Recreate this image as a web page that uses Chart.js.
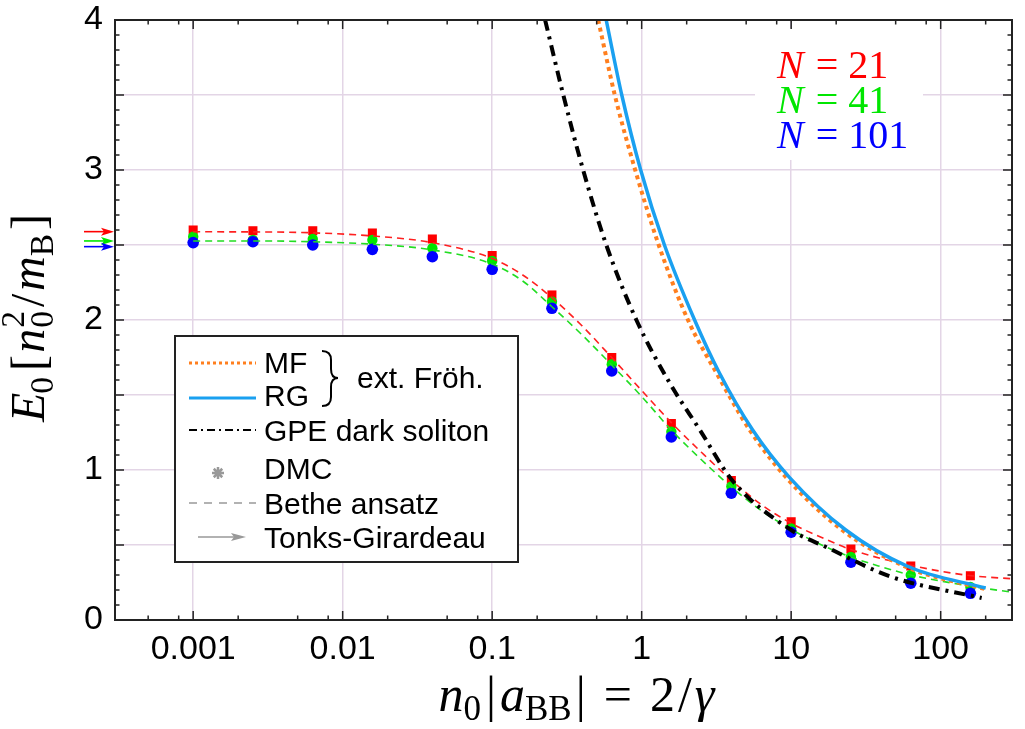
<!DOCTYPE html>
<html>
<head>
<meta charset="utf-8">
<script src="https://cdn.jsdelivr.net/npm/chart.js@4.4.1/dist/chart.umd.min.js"></script>
<style>
  html, body { margin: 0; padding: 0; background: #fff; }
  #wrap { width: 1025px; height: 729px; position: relative; }
</style>
</head>
<body>
<div id="wrap"><canvas id="energyChart"></canvas></div>
<script>
// DMC ground state energies
const dmcX = [0.001, 0.00251, 0.00631, 0.0158, 0.0398, 0.1, 0.251, 0.631, 1.58, 3.98, 10, 25.1, 63.1, 158];
const dmcN21 = [2.60, 2.595, 2.595, 2.58, 2.54, 2.43, 2.167, 1.75, 1.31, 0.93, 0.655, 0.473, 0.36, 0.295];
const dmcN41 = [2.555, 2.533, 2.54, 2.533, 2.478, 2.393, 2.122, 1.705, 1.255, 0.89, 0.61, 0.42, 0.30, 0.22];
const dmcN101 = [2.516, 2.522, 2.5, 2.471, 2.422, 2.338, 2.078, 1.66, 1.22, 0.845, 0.585, 0.385, 0.245, 0.178];

// Bethe ansatz curves
const betheX = [0.001, 0.003, 0.006, 0.016, 0.04, 0.1, 0.16, 0.25, 0.4, 0.63, 1, 1.6, 2.5, 4, 6.3, 10, 16, 25, 40, 63, 100, 160, 300];
const betheN21 = [2.588, 2.587, 2.582, 2.56, 2.515, 2.41, 2.30, 2.15, 1.96, 1.75, 1.53, 1.31, 1.12, 0.93, 0.77, 0.645, 0.55, 0.47, 0.41, 0.365, 0.325, 0.295, 0.275];
const betheN41 = [2.527, 2.527, 2.522, 2.505, 2.467, 2.373, 2.26, 2.09, 1.9, 1.70, 1.49, 1.26, 1.07, 0.885, 0.73, 0.605, 0.50, 0.42, 0.355, 0.30, 0.26, 0.225, 0.185];

// GPE dark soliton
const gpeX = [0.226, 0.299, 0.406, 0.58, 0.922, 1.54, 2.44, 4.04, 10, 17.1, 47, 188];
const gpeE = [4.0, 3.5, 3.0, 2.5, 2.0, 1.58, 1.27, 0.93, 0.60, 0.487, 0.287, 0.147];

// extended Froehlich model, MF and RG
const mfX = [0.512, 0.661, 0.905, 1.30, 2.04, 3.15, 5.25, 9.2, 21.9, 60, 200];
const mfE = [4.0, 3.5, 3.0, 2.5, 2.0, 1.65, 1.27, 0.953, 0.6, 0.35, 0.205];
const rgX = [0.579, 0.736, 0.985, 1.42, 2.26, 3.3, 5.5, 9.7, 23.2, 61, 200];
const rgE = [4.0, 3.5, 3.0, 2.5, 2.0, 1.65, 1.27, 0.953, 0.6, 0.355, 0.213];

// Tonks-Girardeau limits (arrows on the left axis)
const tgLimits = [2.589, 2.527, 2.489];
const nLabels = ['21', '41', '101'];
const nColors = ['#ff0000', '#00e600', '#0000ff'];

const xTicks = [0.001, 0.01, 0.1, 1, 10, 100];
const xTickLabels = ['0.001', '0.01', '0.1', '1', '10', '100'];
const xMinorSteps = [2, 5, 8];
const yTicks = [0, 1, 2, 3, 4];
const yTickLabels = ['0', '1', '2', '3', '4'];

const gridColor = '#e3d5e6';
const serif = '"Liberation Serif", "Times New Roman", serif';
const sans = '"Liberation Sans", Arial, sans-serif';

const pts = (xs, ys) => xs.map((x, i) => ({ x: x, y: ys[i] }));

// simple rich text: italic, sub/superscripts, extra gaps (in em)
function layoutRich(ctx, parts, size) {
    let w = 0;
    const items = [];
    parts.forEach(p => {
        const fs = size * (p.sc || 1);
        const font = (p.it ? 'italic ' : '') + fs + 'px ' + serif;
        ctx.font = font;
        w += (p.gap || 0) * size;
        items.push({ t: p.t, font: font, x: w, dy: (p.dy || 0) * size });
        if (p.adv !== false) w += ctx.measureText(p.t).width;
    });
    return { items: items, width: w };
}

function drawRich(ctx, parts, cx, baseY, size, color, align) {
    const lay = layoutRich(ctx, parts, size);
    const x0 = align === 'left' ? cx : cx - lay.width / 2;
    ctx.fillStyle = color;
    ctx.textBaseline = 'alphabetic';
    ctx.textAlign = 'left';
    lay.items.forEach(it => {
        ctx.font = it.font;
        ctx.fillText(it.t, x0 + it.x, baseY + it.dy);
    });
}

const yTitleParts = [
    { t: 'E', it: true },
    { t: '0', sc: 0.7, dy: 0.18, gap: -0.02 },
    { t: '[', gap: 0.12 },
    { t: 'n', it: true, gap: 0.05 },
    { t: '2', sc: 0.7, dy: -0.42, adv: false, gap: 0.02 },
    { t: '0', sc: 0.7, dy: 0.18 },
    { t: '/', gap: 0.08 },
    { t: 'm', it: true, gap: 0.06 },
    { t: 'B', sc: 0.7, dy: 0.18 },
    { t: ']', gap: 0.08 }
];
const xTitleParts = [
    { t: 'n', it: true },
    { t: '0', sc: 0.7, dy: 0.18 },
    { t: '|', gap: 0.1 },
    { t: 'a', it: true, gap: 0.08 },
    { t: 'BB', sc: 0.7, dy: 0.18 },
    { t: '|', gap: 0.08 },
    { t: '=', gap: 0.36 },
    { t: '2', gap: 0.36 },
    { t: '/', gap: 0.06 },
    { t: 'γ', it: true, gap: 0.06 }
];

const axisTitles = {
    id: 'axisTitles',
    afterDraw(chart) {
        const { ctx, chartArea: a } = chart;
        ctx.save();
        drawRich(ctx, xTitleParts, (a.left + a.right) / 2 + 13, 711, 50, '#000');
        ctx.translate(44, (a.top + a.bottom) / 2 - 2);
        ctx.rotate(-Math.PI / 2);
        drawRich(ctx, yTitleParts, 0, 0, 48, '#000');
        ctx.restore();
    }
};

// boxed frame with inward ticks on all four sides
const frameTicks = {
    id: 'frameTicks',
    afterDatasetsDraw(chart) {
        const { ctx, chartArea: a, scales: { x, y } } = chart;
        ctx.save();
        ctx.strokeStyle = '#222';
        ctx.lineWidth = 1.5;
        ctx.beginPath();
        const vTick = (px, len) => {
            ctx.moveTo(px, a.bottom); ctx.lineTo(px, a.bottom - len);
            ctx.moveTo(px, a.top); ctx.lineTo(px, a.top + len);
        };
        xTicks.forEach(v => vTick(x.getPixelForValue(v), 9));
        for (let e = -4; e <= 2; e++) {
            xMinorSteps.forEach(m => {
                const v = m * Math.pow(10, e);
                if (v > x.min && v < x.max) vTick(x.getPixelForValue(v), 4.5);
            });
        }
        for (let i = 1; i < 40; i++) {
            const py = y.getPixelForValue(i / 10);
            const len = i % 5 === 0 ? 9 : 4.5;
            ctx.moveTo(a.left, py); ctx.lineTo(a.left + len, py);
            ctx.moveTo(a.right, py); ctx.lineTo(a.right - len, py);
        }
        ctx.stroke();
        ctx.lineWidth = 2;
        ctx.strokeRect(a.left, a.top, a.width, a.height);
        ctx.restore();
    }
};

function arrow(ctx, x1, x2, py, color, head) {
    ctx.strokeStyle = color;
    ctx.fillStyle = color;
    ctx.lineWidth = 1.6;
    ctx.beginPath();
    ctx.moveTo(x1, py); ctx.lineTo(x2 - 4, py);
    ctx.stroke();
    ctx.beginPath();
    ctx.moveTo(x2, py);
    ctx.lineTo(x2 - head, py - 4);
    ctx.lineTo(x2 - head + 3, py);
    ctx.lineTo(x2 - head, py + 4);
    ctx.closePath();
    ctx.fill();
}

const tgArrows = {
    id: 'tgArrows',
    afterDraw(chart) {
        const { ctx, chartArea: a, scales: { y } } = chart;
        ctx.save();
        tgLimits.forEach((v, i) => arrow(ctx, a.left - 31, a.left - 1, y.getPixelForValue(v), nColors[i], 13));
        ctx.restore();
    }
};

// "N = ..." labels on a white patch
const nBox = {
    id: 'nBox',
    beforeDatasetsDraw(chart) {
        const { ctx } = chart;
        ctx.save();
        ctx.fillStyle = '#fff';
        ctx.fillRect(755, 28, 168, 132);
        nLabels.forEach((n, i) => {
            drawRich(ctx, [{ t: 'N', it: true }, { t: '= ' + n, gap: 0.3 }], 777, 78 + i * 35, 40, nColors[i], 'left');
        });
        ctx.restore();
    }
};

const customLegend = {
    id: 'customLegend',
    afterDraw(chart) {
        const { ctx } = chart;
        ctx.save();
        ctx.fillStyle = '#fff';
        ctx.fillRect(175, 336, 343, 226);
        ctx.strokeStyle = '#222';
        ctx.lineWidth = 2;
        ctx.strokeRect(175, 336, 343, 226);

        const sample = (y, color, width, dash) => {
            ctx.strokeStyle = color;
            ctx.lineWidth = width;
            ctx.setLineDash(dash);
            ctx.beginPath();
            ctx.moveTo(189, y); ctx.lineTo(256, y);
            ctx.stroke();
            ctx.setLineDash([]);
        };
        sample(363, '#ff7f1e', 3, [3, 3]);
        sample(398, '#1aa0f0', 3, []);
        sample(430, '#000', 2.2, [8, 4, 2, 4]);
        sample(503, '#999', 1.5, [8, 7]);

        // DMC asterisk
        ctx.strokeStyle = '#999';
        ctx.lineWidth = 2.5;
        ctx.beginPath();
        for (let k = 0; k < 4; k++) {
            const ang = k * Math.PI / 4;
            ctx.moveTo(218 - 6 * Math.cos(ang), 473 - 6 * Math.sin(ang));
            ctx.lineTo(218 + 6 * Math.cos(ang), 473 + 6 * Math.sin(ang));
        }
        ctx.stroke();

        arrow(ctx, 198, 246, 537, '#999', 15);

        // brace for the ext. Froehlich group
        ctx.strokeStyle = '#000';
        ctx.lineWidth = 2;
        ctx.beginPath();
        ctx.moveTo(322, 351);
        ctx.quadraticCurveTo(331, 351, 331, 360);
        ctx.lineTo(331, 369);
        ctx.quadraticCurveTo(331, 378, 338, 378);
        ctx.quadraticCurveTo(331, 378, 331, 387);
        ctx.lineTo(331, 397);
        ctx.quadraticCurveTo(331, 406, 322, 406);
        ctx.stroke();

        ctx.fillStyle = '#000';
        ctx.font = '30px ' + sans;
        ctx.textAlign = 'left';
        ctx.textBaseline = 'alphabetic';
        ctx.fillText('MF', 264, 373);
        ctx.fillText('RG', 264, 406);
        ctx.fillText('ext. Fröh.', 357, 388);
        ctx.fillText('GPE dark soliton', 264, 441);
        ctx.fillText('DMC', 264, 479);
        ctx.fillText('Bethe ansatz', 264, 514);
        ctx.fillText('Tonks-Girardeau', 264, 548);
        ctx.restore();
    }
};

const ctx = document.getElementById('energyChart').getContext('2d');

const energyChart = new Chart(ctx, {
    type: 'scatter',
    data: {
        datasets: [
            { label: 'DMC N=21', data: pts(dmcX, dmcN21), pointStyle: 'rect', pointRadius: 6.4,
              backgroundColor: '#ff0000', borderColor: '#ff0000', borderWidth: 0, showLine: false, order: 9 },
            { label: 'DMC N=41', data: pts(dmcX, dmcN41), pointStyle: 'circle', pointRadius: 5.2,
              backgroundColor: '#00e600', borderColor: '#00e600', borderWidth: 0, showLine: false, order: 8 },
            { label: 'DMC N=101', data: pts(dmcX, dmcN101), pointStyle: 'circle', pointRadius: 5.8,
              backgroundColor: '#0000ff', borderColor: '#0000ff', borderWidth: 0, showLine: false, order: 7 },
            { label: 'Bethe N=21', data: pts(betheX, betheN21), showLine: true, pointRadius: 0,
              borderColor: '#ff2020', borderWidth: 1.6, borderDash: [7, 5], cubicInterpolationMode: 'monotone', order: 5 },
            { label: 'Bethe N=41', data: pts(betheX, betheN41), showLine: true, pointRadius: 0,
              borderColor: '#22dd22', borderWidth: 1.6, borderDash: [7, 5], cubicInterpolationMode: 'monotone', order: 4 },
            { label: 'GPE dark soliton', data: pts(gpeX, gpeE), showLine: true, pointRadius: 0,
              borderColor: '#000', borderWidth: 4, borderDash: [11, 6, 3, 6], cubicInterpolationMode: 'monotone', order: 3 },
            { label: 'MF', data: pts(mfX, mfE), showLine: true, pointRadius: 0,
              borderColor: '#ff7f1e', borderWidth: 4, borderDash: [4, 4], cubicInterpolationMode: 'monotone', order: 2 },
            { label: 'RG', data: pts(rgX, rgE), showLine: true, pointRadius: 0,
              borderColor: '#1aa0f0', borderWidth: 3.5, cubicInterpolationMode: 'monotone', order: 1 }
        ]
    },
    options: {
        responsive: true,
        maintainAspectRatio: false,
        animation: false,
        layout: { padding: { top: 20, right: 13, left: 0, bottom: 0 } },
        plugins: {
            legend: { display: false },
            tooltip: { enabled: false }
        },
        scales: {
            x: {
                type: 'logarithmic',
                min: 0.0003,
                max: 300,
                afterBuildTicks: ax => { ax.ticks = xTicks.map(v => ({ value: v })); },
                afterFit: ax => { ax.height = 109; ax.paddingLeft = 0; ax.paddingRight = 0; },
                ticks: {
                    callback: v => { const i = xTicks.indexOf(v); return i < 0 ? '' : xTickLabels[i]; },
                    font: { family: sans, size: 34 },
                    color: '#000',
                    padding: 9,
                    maxRotation: 0,
                    autoSkip: false
                },
                grid: { color: gridColor, lineWidth: 1.5, drawTicks: false },
                border: { color: '#222', width: 2 }
            },
            y: {
                min: 0,
                max: 4,
                afterFit: ax => { ax.width = 115; ax.paddingTop = 0; ax.paddingBottom = 0; },
                ticks: {
                    stepSize: 0.5,
                    callback: v => { const i = yTicks.indexOf(v); return i < 0 ? '' : yTickLabels[i]; },
                    font: { family: sans, size: 34 },
                    color: '#000',
                    padding: 12
                },
                grid: { color: gridColor, lineWidth: 1.5, drawTicks: false },
                border: { color: '#222', width: 2 }
            }
        }
    },
    plugins: [nBox, frameTicks, customLegend, tgArrows, axisTitles]
});
</script>
</body>
</html>
